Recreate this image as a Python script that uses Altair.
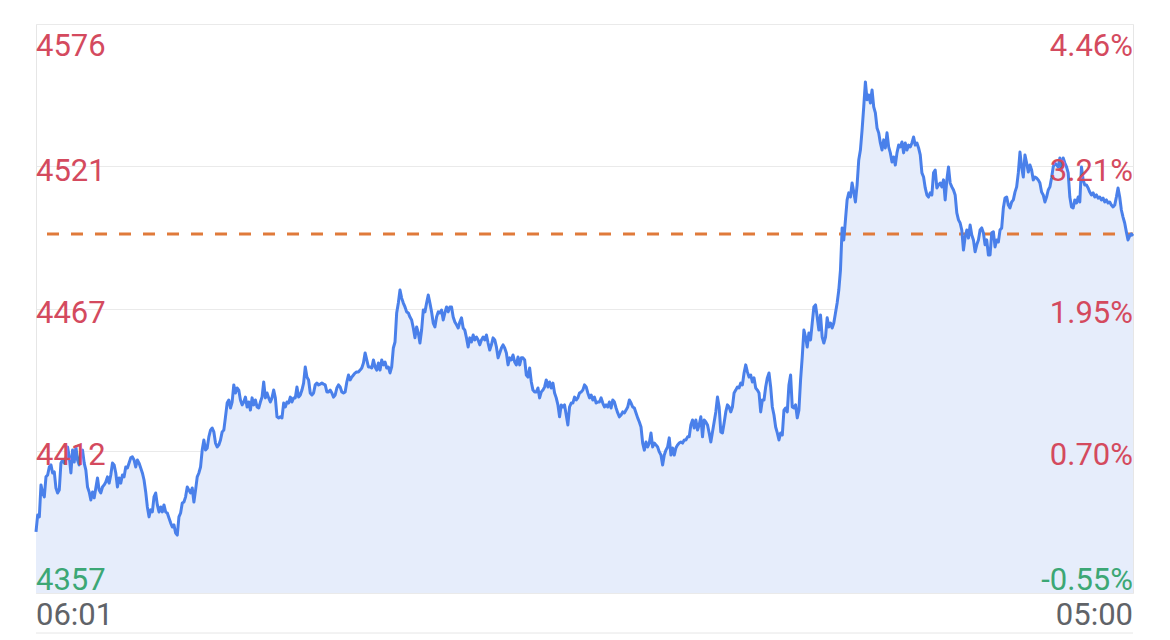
import altair as alt
import pandas as pd

# Price series (one value per sample, 06:01 -> 05:00)
prices = [
    4380.5, 4387.0, 4386.3, 4398.6, 4395.5, 4394.0, 4401.7, 4402.4, 4405.5, 4406.3,
    4403.2, 4403.6, 4397.4, 4395.5, 4396.6, 4407.0, 4408.2, 4407.0, 4408.2, 4413.2,
    4409.4, 4403.2, 4412.0, 4407.4, 4413.2, 4408.2, 4406.3, 4411.3, 4412.0, 4407.0,
    4404.3, 4397.8, 4395.9, 4392.8, 4395.9, 4393.6, 4397.4, 4401.3, 4396.6, 4395.5,
    4397.8, 4398.6, 4399.7, 4401.7, 4399.3, 4402.4, 4407.0, 4406.3, 4403.2, 4397.8,
    4401.3, 4399.3, 4402.4, 4401.7, 4405.5, 4405.1, 4407.0, 4409.0, 4409.4, 4408.2,
    4405.5, 4408.2, 4407.0, 4405.1, 4403.2, 4400.5, 4395.9, 4390.1, 4386.3, 4389.0,
    4388.2, 4394.0, 4395.5, 4390.9, 4388.2, 4390.1, 4388.2, 4390.9, 4388.2, 4387.8,
    4385.9, 4384.0, 4382.4, 4383.2, 4380.1, 4379.3, 4386.3, 4387.8, 4391.6, 4392.0,
    4394.0, 4397.8, 4396.6, 4395.5, 4397.4, 4392.0, 4396.6, 4401.7, 4403.2, 4405.5,
    4412.0, 4415.9, 4412.0, 4412.8, 4417.1, 4419.7, 4420.5, 4419.0, 4414.7, 4413.2,
    4414.0, 4415.9, 4419.0, 4419.7, 4424.8, 4430.1, 4431.3,
    4428.2, 4430.5, 4437.1, 4434.0, 4435.9, 4435.1, 4431.3, 4429.4, 4430.5, 4432.4,
    4428.6, 4430.5, 4427.4, 4432.1, 4429.4, 4431.3, 4428.6, 4428.2, 4430.5, 4432.4,
    4438.2, 4432.1, 4434.0, 4432.1, 4430.5, 4432.1, 4435.1, 4432.1, 4424.8, 4424.4,
    4424.8, 4424.4, 4430.1, 4428.6, 4430.5, 4430.1, 4432.4, 4430.5, 4432.1, 4432.1,
    4436.3, 4432.4, 4433.2, 4435.1, 4437.8, 4444.0, 4440.1, 4439.0, 4434.0, 4433.2,
    4434.0, 4437.1, 4437.8, 4437.1, 4437.4, 4437.8, 4437.4, 4437.1, 4434.4, 4434.4,
    4435.1, 4434.0, 4432.4, 4433.2, 4435.9, 4437.1, 4436.3, 4434.4, 4434.0, 4434.4,
    4438.2, 4440.9, 4439.0, 4440.1, 4440.9, 4441.7, 4442.1, 4442.1, 4442.8, 4443.6,
    4445.5, 4449.4, 4446.7, 4444.0, 4444.0, 4443.6, 4446.7, 4444.0, 4442.8, 4445.5,
    4442.8, 4446.7, 4444.8, 4445.9, 4443.6, 4444.0, 4441.7, 4444.0, 4451.3, 4453.6,
    4464.8, 4468.6, 4473.6, 4470.5, 4468.6, 4467.1, 4465.2,
    4464.8, 4463.2, 4462.1, 4459.0, 4455.2, 4459.4, 4457.1, 4453.2, 4458.2, 4465.9,
    4465.2, 4468.6, 4471.7, 4468.6, 4465.2, 4460.9, 4459.4, 4463.2, 4465.2, 4464.8,
    4465.9, 4462.1, 4464.8, 4467.1, 4465.2, 4467.1, 4467.1, 4463.2, 4461.3, 4460.2,
    4459.0, 4461.3, 4462.9, 4459.0, 4458.2, 4455.2, 4451.7, 4455.2, 4453.6, 4456.3,
    4454.4, 4455.5, 4454.4, 4452.5, 4454.4, 4455.5, 4454.4, 4456.3, 4453.2, 4450.5,
    4452.5, 4455.2, 4454.4, 4451.7, 4447.5, 4449.4, 4451.3, 4452.5, 4451.3, 4449.4,
    4444.8, 4447.5, 4446.7, 4448.6, 4445.9, 4444.8, 4447.8, 4444.8, 4447.5, 4447.5,
    4446.7, 4440.9, 4440.1, 4443.6, 4438.2, 4435.1, 4434.4, 4434.4, 4435.9, 4432.1,
    4434.4, 4435.1, 4436.3, 4439.0, 4436.3, 4438.2, 4435.9, 4437.8, 4434.0, 4432.1,
    4429.4, 4424.8, 4429.4, 4428.6, 4429.4, 4425.5, 4421.7, 4428.6, 4430.1, 4430.1,
    4432.4, 4431.3, 4432.1, 4434.0, 4434.4, 4435.1, 4437.1, 4436.3, 4434.0, 4432.1,
    4433.2, 4431.3, 4432.4, 4430.1, 4430.5,
    4430.5, 4432.1, 4430.1, 4428.6, 4429.4, 4428.6, 4430.5, 4428.2, 4431.3, 4430.5,
    4428.2, 4426.3, 4424.8, 4425.5, 4426.7, 4426.3, 4427.4, 4428.6, 4431.3, 4430.1,
    4428.6, 4428.2, 4426.3, 4424.4, 4422.8, 4420.9, 4414.7, 4412.0, 4415.1, 4413.2,
    4414.7, 4418.6, 4413.2, 4414.7, 4414.0, 4413.2, 4411.3, 4410.1, 4406.3, 4410.1,
    4412.0, 4413.2, 4416.7, 4410.1, 4412.8, 4410.1, 4412.8, 4414.0, 4414.7, 4415.1,
    4414.7, 4415.9, 4415.9, 4417.1, 4417.1, 4421.7, 4423.6, 4420.5, 4423.6, 4419.7,
    4421.7, 4424.8, 4417.1, 4423.6, 4422.8, 4421.7, 4418.6, 4415.1, 4419.0, 4422.8,
    4426.7, 4432.4, 4428.6, 4419.0, 4418.6, 4422.4, 4426.7, 4429.4, 4428.6, 4426.7,
    4428.6, 4434.0, 4435.1, 4436.3, 4435.9, 4437.8, 4437.1, 4441.7, 4444.8, 4442.1,
    4440.1, 4440.9, 4438.2, 4439.8, 4435.9, 4435.1, 4434.0, 4426.7, 4431.3, 4431.3,
    4436.3, 4439.8, 4441.7, 4436.3, 4428.6, 4425.5, 4420.9, 4418.6, 4415.9, 4418.6,
    4417.8, 4427.4, 4428.2, 4426.7, 4437.1, 4440.9, 4428.6, 4428.2, 4429.4, 4424.4,
    4427.4, 4439.0,
    4447.8, 4458.2, 4455.5, 4451.7, 4457.1, 4454.4, 4460.9, 4467.1, 4467.9, 4463.2,
    4458.2, 4464.0, 4455.5, 4453.2, 4455.5, 4462.9, 4459.4, 4460.9, 4459.0, 4460.9,
    4464.8, 4468.6, 4473.6, 4481.3, 4497.5, 4492.9, 4500.6, 4508.3, 4511.0, 4509.4,
    4514.8, 4511.3, 4507.5, 4514.0, 4523.7, 4527.5, 4535.2, 4544.1, 4553.7, 4546.8,
    4548.7, 4545.6, 4550.6, 4544.1, 4541.8, 4536.0, 4534.1, 4530.2, 4527.5, 4531.4,
    4528.3, 4534.1, 4528.7, 4526.4, 4522.9, 4524.8, 4521.7, 4526.4, 4529.4, 4528.7,
    4530.6, 4526.4, 4530.2, 4527.5, 4529.4, 4528.7, 4530.2, 4532.5, 4529.4, 4530.2,
    4528.3, 4525.6, 4518.7, 4517.1, 4512.9, 4510.2, 4509.4, 4511.0, 4510.2, 4518.7,
    4519.8, 4512.9, 4514.0, 4514.8, 4513.3, 4516.0, 4508.3, 4516.0, 4521.0, 4514.8,
    4513.3, 4512.1, 4510.2, 4503.3, 4500.6, 4499.4, 4496.7, 4489.0, 4494.0, 4496.7,
    4493.6, 4498.6, 4494.8, 4492.9, 4488.3, 4491.0, 4492.9,
    4496.7, 4497.5, 4495.6, 4491.0, 4492.9, 4487.1, 4487.1, 4495.6, 4496.0, 4490.2,
    4492.9, 4492.1, 4496.7, 4497.5, 4505.2, 4509.0, 4509.4, 4506.3, 4505.2, 4507.5,
    4508.3, 4511.3, 4513.3, 4518.7, 4526.7, 4521.0, 4517.1, 4525.6, 4522.5, 4519.0,
    4521.7, 4519.8, 4516.0, 4517.1, 4516.7, 4516.0, 4514.8, 4511.3, 4510.2, 4507.5,
    4509.4, 4512.1, 4513.3, 4516.7, 4521.0, 4522.5, 4521.7, 4521.0, 4524.4, 4519.8,
    4524.4, 4522.5, 4521.0, 4518.7, 4509.4, 4505.6, 4505.2, 4508.3, 4507.1, 4509.4,
    4507.5, 4521.0, 4516.0, 4514.0, 4514.0, 4512.9, 4511.3, 4510.2, 4511.0, 4509.4,
    4510.2, 4509.0, 4509.4, 4508.3, 4509.0, 4507.5, 4508.3, 4507.1, 4507.5, 4506.3,
    4505.6, 4506.3, 4509.4, 4512.9, 4509.4, 4504.4, 4501.7, 4499.4, 4496.0, 4492.9,
    4494.4, 4495.2, 4494.4,
]

time_labels = ["06:01", "05:00"]
grid_values = [4576, 4521.25, 4466.5, 4411.75, 4357]
left_labels = ["4576", "4521", "4467", "4412", "4357"]
right_labels = ["4.46%", "3.21%", "1.95%", "0.70%", "-0.55%"]
label_pos = ["top", "mid", "mid", "mid", "bottom"]
RED = "#D44A5E"
GREEN = "#3CA775"
label_colors = [RED, RED, RED, RED, GREEN]
ref_price = 4495.2
y_min, y_max = 4357, 4576

W, H = 1097, 569
FONT = "Roboto"
FS = 31

df = pd.DataFrame({"i": list(range(len(prices))), "price": prices})
xs = alt.Scale(domain=[0, len(prices) - 1], nice=False, zero=False)
ys = alt.Scale(domain=[y_min, y_max], nice=False, zero=False)

base = alt.Chart(df)
area = base.mark_area(color="#E6EDFB", opacity=1).encode(
    x=alt.X("i:Q", scale=xs, axis=None),
    y=alt.Y(
        "price:Q",
        scale=ys,
        axis=alt.Axis(values=grid_values, grid=True, labels=False, ticks=False,
                      domain=False, title=None, gridColor="#EAEAEA", gridWidth=1),
    ),
    y2=alt.datum(y_min),
)
line = base.mark_line(color="#4A80EA", strokeWidth=3, strokeJoin="round").encode(
    x=alt.X("i:Q", scale=xs, axis=None),
    y=alt.Y("price:Q", scale=ys),
)
ref = alt.Chart(pd.DataFrame({"ref": [ref_price]})).mark_rule(
    color="#E07A3A", strokeWidth=3, strokeDash=[12, 12], strokeDashOffset=6
).encode(y=alt.Y("ref:Q", scale=ys))

lab = pd.DataFrame({"v": grid_values, "left": left_labels, "right": right_labels,
                    "color": label_colors, "pos": label_pos})
dys = {"top": 31.5, "mid": 14.5, "bottom": -3}
text_layers = []
for pos, dy in dys.items():
    sub = lab[lab["pos"] == pos]
    c = alt.Chart(sub)
    text_layers.append(
        c.mark_text(align="left", baseline="alphabetic", font=FONT, fontSize=FS, dy=dy).encode(
            x=alt.value(0), y=alt.Y("v:Q", scale=ys), text="left:N",
            color=alt.Color("color:N", scale=None))
    )
    text_layers.append(
        c.mark_text(align="right", baseline="alphabetic", font=FONT, fontSize=FS, dy=dy).encode(
            x=alt.value(W), y=alt.Y("v:Q", scale=ys), text="right:N",
            color=alt.Color("color:N", scale=None))
    )

tdf = pd.DataFrame({"t": time_labels})
t_start = alt.Chart(tdf.iloc[[0]]).mark_text(
    align="left", baseline="alphabetic", font=FONT, fontSize=FS, color="#606368"
).encode(x=alt.value(0), y=alt.value(H + 32), text="t:N")
t_end = alt.Chart(tdf.iloc[[1]]).mark_text(
    align="right", baseline="alphabetic", font=FONT, fontSize=FS, color="#606368"
).encode(x=alt.value(W), y=alt.value(H + 32), text="t:N")
bottom_line = alt.Chart(pd.DataFrame({"a": [0]})).mark_rule(color="#E6E6E6", strokeWidth=1).encode(
    x=alt.value(0), x2=alt.value(W), y=alt.value(H + 40)
)

chart = alt.layer(area, ref, line, *text_layers, t_start, t_end, bottom_line).properties(
    width=W, height=H,
    autosize=alt.AutoSizeParams(type="none"),
    padding={"left": 28, "top": 16, "right": 20, "bottom": 50},
    background="white",
).configure_view(stroke="#E6E6E6", strokeWidth=1)

chart.save("out.html", embed_options={"renderer": "svg", "actions": False})
